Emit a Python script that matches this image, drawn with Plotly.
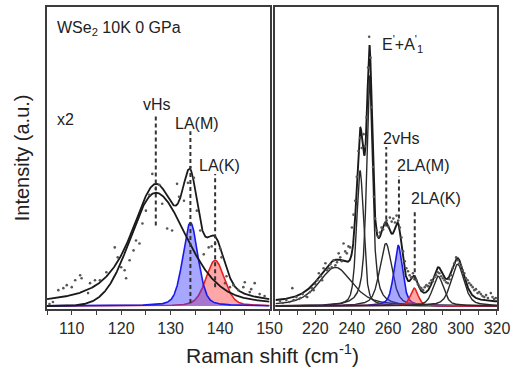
import numpy as np
import plotly.graph_objects as go

# ---------------- low-frequency window (105-150 cm-1, shown x2) ----------------
low_shift = [105.5, 106.2, 107.3, 108.3, 109.0, 110.0, 110.7, 111.7, 112.0, 113.3,
             113.7, 114.7, 115.7, 117.0, 118.7, 119.3, 120.0, 120.7, 121.0, 121.7,
             122.5, 123.0, 123.7, 124.3, 125.0, 125.7, 126.3, 127.0, 127.7, 128.3,
             129.3, 130.3, 131.3, 131.7, 132.7, 133.5, 134.0, 134.7, 135.3, 136.0,
             136.7, 137.7, 138.3, 139.0, 140.0, 140.3, 141.0, 141.3, 142.0, 142.7,
             143.7, 144.7, 145.0, 146.0, 146.3, 147.0, 148.0, 149.0]
low_counts = [2, 4, 16, 18, 21, 19, 26, 31, 28, 13,
              23, 26, 26, 34, 59, 49, 39, 36, 28, 46,
              56, 66, 63, 83, 96, 112, 133, 118, 122, 103,
              78, 76, 123, 110, 106, 124, 140, 129, 96, 76,
              52, 59, 60, 63, 58, 49, 23, 30, 19, 21,
              16, 19, 24, 14, 17, 23, 12, 10]

# fitted one-phonon peaks: LA(M) (blue) and LA(K) (red)
low_peak_center = [134.0, 139.0]
low_peak_height = [84.0, 46.0]
low_peak_fwhm = [3.6, 4.4]
low_peak_eta = [0.3, 0.3]

# broad term of the cumulative fit
low_broad_center = 127.0
low_broad_height = 121.0
low_broad_fwhm = 12.0
low_broad_eta = 0.8

# van Hove singularity band (asymmetric profile)
vhs_center = 127.0
vhs_height = 114.0
vhs_hw_left, vhs_hw_right = 6.0, 7.5
vhs_eta_left, vhs_eta_right = 0.0, 0.4

# ---------------- two-phonon window (198-320 cm-1) ----------------
high_shift = [200.5, 202, 204, 205.5, 207.3, 208, 209.5, 211, 211.8, 213, 214.5, 215.5,
              217, 218, 219, 220, 221, 221.9, 223, 223.7, 224.5, 225.5, 226.4, 227.3,
              228.2, 229, 230, 231, 231.9, 232.8, 233.7, 234.5, 235.5, 236.4, 237.3,
              238.2, 239.1, 240.1, 241, 241.9, 242.8, 243.7, 244.6, 245.5, 246.5, 247.3,
              248.2, 249, 249.6, 250.3, 251, 251.7, 252.2, 252.8, 253.7, 254.6, 255.5,
              256.4, 257.3, 258.3, 259.2, 260.1, 261, 262, 262.9, 263.8, 264.7, 265.6,
              266.5, 267.4, 268.3, 269.2, 270.1, 271, 271.9, 272.8, 273.7, 274.6, 275.6,
              276.5, 277.4, 278.3, 279.3, 280.2, 281.1, 282, 282.9, 283.8, 284.7, 285.6,
              286.5, 287.4, 288.3, 289.3, 290.2, 291.1, 292, 292.9, 293.8, 294.7, 295.6,
              296.5, 297.5, 298.4, 299.3, 300.2, 301.1, 302, 302.9, 303.8, 304.7, 305.7,
              306.6, 307.5, 308.4, 309.3, 310.2, 311.1, 312, 313, 314, 315, 316.6, 317.5,
              318.4, 319.3]
high_counts = [5, 3, 6, 4, 18, 6, 9, 7, 8, 12, 10, 9,
               14, 18, 16, 22, 26, 33, 30, 26, 38, 43, 36, 38,
               42, 39, 46, 41, 44, 53, 49, 45, 63, 55, 53,
               60, 59, 79, 92, 106, 130, 156, 169, 159, 173, 161,
               190, 240, 271, 250, 200, 140, 110, 88, 76, 70, 74,
               79, 77, 83, 86, 80, 89, 85, 88, 84, 91, 86,
               79, 69, 55, 45, 38, 35, 31, 29, 33, 27, 26,
               22, 19, 18, 16, 19, 21, 20, 23, 26, 25, 29,
               31, 34, 33, 30, 28, 26, 24, 23, 27, 31, 38,
               43, 49, 46, 43, 40, 36, 33, 28, 26, 23, 21,
               19, 16, 17, 13, 14, 12, 10, 9, 11, 8, 13, 9,
               7, 8]

# fitted components: broad band, 245, E'+A'1, 2vHs, 2LA(M), 2LA(K), 288, 298
high_peak_center = [231.0, 244.6, 249.8, 258.8, 265.6, 274.4, 287.6, 298.3]
high_peak_height = [39.0, 136.0, 232.0, 63.0, 61.0, 18.0, 30.0, 42.0]
high_peak_fwhm = [22.0, 4.6, 3.8, 8.0, 5.6, 5.0, 7.0, 8.5]
high_peak_eta = [0.6, 0.45, 0.8, 0.5, 0.5, 0.5, 0.5, 0.5]
high_background = 3.0
BLUE_IDX, RED_IDX = 4, 5

# guide marks (position, top, bottom)
low_mark_x = [127.0, 134.0, 139.0]
low_mark_top = [193, 176, 133]
low_mark_bottom = [81, 3, 19]
high_mark_x = [259.0, 266.0, 274.7]
high_mark_top = [160, 131, 97]
high_mark_bottom = [80, 88, 27]


def pseudo_voigt(x, center, height, fwhm, eta):
    u = ((x - center) / (fwhm / 2.0)) ** 2
    return height * (eta / (1.0 + u) + (1.0 - eta) * np.exp(-np.log(2.0) * u))


def split_voigt(x, center, height, hw_l, hw_r, eta_l, eta_r):
    left = pseudo_voigt(x, center, height, 2 * hw_l, eta_l)
    right = pseudo_voigt(x, center, height, 2 * hw_r, eta_r)
    return np.where(x < center, left, right)


xl = np.linspace(105, 150, 901)
xr = np.linspace(198, 320, 1221)

la_m = pseudo_voigt(xl, low_peak_center[0], low_peak_height[0], low_peak_fwhm[0], low_peak_eta[0])
la_k = pseudo_voigt(xl, low_peak_center[1], low_peak_height[1], low_peak_fwhm[1], low_peak_eta[1])
low_total = pseudo_voigt(xl, low_broad_center, low_broad_height, low_broad_fwhm, low_broad_eta) + la_m + la_k
vhs = split_voigt(xl, vhs_center, vhs_height, vhs_hw_left, vhs_hw_right, vhs_eta_left, vhs_eta_right)

high_parts = [pseudo_voigt(xr, c, h, w, e) for c, h, w, e in
              zip(high_peak_center, high_peak_height, high_peak_fwhm, high_peak_eta)]
high_total = np.sum(high_parts, axis=0) + high_background

BLUE_LINE, BLUE_FILL = "rgb(25,25,235)", "rgba(60,60,255,0.45)"
RED_LINE, RED_FILL = "rgb(235,30,30)", "rgba(255,60,60,0.45)"
INK = "#1a1a1a"
DOT = "#555555"
FONT = "Liberation Sans, Arial, sans-serif"

fig = go.Figure()

# left panel
fig.add_trace(go.Scatter(x=xl, y=la_k, mode="lines", fill="tozeroy", fillcolor=RED_FILL,
                         line=dict(color=RED_LINE, width=1.6), xaxis="x", yaxis="y"))
fig.add_trace(go.Scatter(x=xl, y=la_m, mode="lines", fill="tozeroy", fillcolor=BLUE_FILL,
                         line=dict(color=BLUE_LINE, width=1.6), xaxis="x", yaxis="y"))
fig.add_trace(go.Scatter(x=xl, y=vhs, mode="lines", line=dict(color=INK, width=1.8),
                         xaxis="x", yaxis="y"))
fig.add_trace(go.Scatter(x=xl, y=low_total, mode="lines", line=dict(color=INK, width=1.8),
                         xaxis="x", yaxis="y"))
fig.add_trace(go.Scatter(x=low_shift, y=low_counts, mode="markers",
                         marker=dict(color=DOT, size=2.6), xaxis="x", yaxis="y"))
for mx, top, bot in zip(low_mark_x, low_mark_top, low_mark_bottom):
    fig.add_trace(go.Scatter(x=[mx, mx], y=[bot, top], mode="lines",
                             line=dict(color="#333333", width=2, dash="4px,3px"),
                             xaxis="x", yaxis="y"))

# right panel
for i, part in enumerate(high_parts):
    if i == BLUE_IDX:
        fig.add_trace(go.Scatter(x=xr, y=part, mode="lines", fill="tozeroy", fillcolor=BLUE_FILL,
                                 line=dict(color=BLUE_LINE, width=1.6), xaxis="x2", yaxis="y2"))
    elif i == RED_IDX:
        fig.add_trace(go.Scatter(x=xr, y=part, mode="lines", fill="tozeroy", fillcolor=RED_FILL,
                                 line=dict(color=RED_LINE, width=1.6), xaxis="x2", yaxis="y2"))
    else:
        fig.add_trace(go.Scatter(x=xr, y=part, mode="lines", line=dict(color="#2a2a2a", width=1.4),
                                 xaxis="x2", yaxis="y2"))
fig.add_trace(go.Scatter(x=xr, y=high_total, mode="lines", line=dict(color=INK, width=1.9),
                         xaxis="x2", yaxis="y2"))
fig.add_trace(go.Scatter(x=high_shift, y=high_counts, mode="markers",
                         marker=dict(color=DOT, size=2.6), xaxis="x2", yaxis="y2"))
for mx, top, bot in zip(high_mark_x, high_mark_top, high_mark_bottom):
    fig.add_trace(go.Scatter(x=[mx, mx], y=[bot, top], mode="lines",
                             line=dict(color="#333333", width=2, dash="4px,3px"),
                             xaxis="x2", yaxis="y2"))

frame = dict(showline=True, linecolor="#3c3c3c", linewidth=1.6, mirror=True,
             showgrid=False, zeroline=False)
tickfont = dict(family=FONT, size=16, color="#2a2a2a")
yrange = [-3, 301]

fig.update_layout(
    width=515, height=369,
    margin=dict(l=47, r=13, t=5, b=60),
    paper_bgcolor="white", plot_bgcolor="white",
    showlegend=False,
    font=dict(family=FONT, color="#2a2a2a"),
    xaxis=dict(domain=[0, 0.4945], range=[105, 150], tickvals=[110, 120, 130, 140, 150],
               ticks="outside", ticklen=4, tickwidth=1.3, tickcolor="#3c3c3c",
               minor=dict(tickvals=[105, 115, 125, 135, 145], ticks="outside", ticklen=4,
                          tickwidth=1.3, tickcolor="#3c3c3c"),
               tickfont=tickfont, anchor="y", **frame),
    xaxis2=dict(domain=[0.5077, 1], range=[198, 320], tickvals=[220, 240, 260, 280, 300, 320],
                ticks="outside", ticklen=4, tickwidth=1.3, tickcolor="#3c3c3c",
                minor=dict(tickvals=[200, 210, 230, 250, 270, 290, 310], ticks="outside",
                           ticklen=4, tickwidth=1.3, tickcolor="#3c3c3c"),
                tickfont=tickfont, anchor="y2", **frame),
    yaxis=dict(range=yrange, showticklabels=False, ticks="", anchor="x", **frame),
    yaxis2=dict(range=yrange, showticklabels=False, ticks="", anchor="x2", **frame),
)

label_font = dict(family=FONT, size=16, color="#222222")
notes = [
    ("x", "y", 106.7, 279, "WSe<sub>2</sub> 10K 0 GPa", "left"),
    ("x", "y", 106.7, 188, "x2", "left"),
    ("x", "y", 127.3, 203, "vHs", "center"),
    ("x", "y", 135.3, 184, "LA(M)", "center"),
    ("x", "y", 139.9, 141, "LA(K)", "center"),
    ("x2", "y2", 255.3, 264, "E<sup>'</sup>+A<sup>'</sup><sub>1</sub>", "left"),
    ("x2", "y2", 255.9, 169, "2vHs", "left"),
    ("x2", "y2", 264.1, 141, "2LA(M)", "left"),
    ("x2", "y2", 271.7, 108, "2LA(K)", "left"),
]
for xref, yref, x, y, text, anchor in notes:
    fig.add_annotation(xref=xref, yref=yref, x=x, y=y, text=text, showarrow=False,
                       xanchor=anchor, yanchor="middle", font=label_font)

fig.add_annotation(xref="paper", yref="paper", x=-0.055, y=0.5, text="Intensity (a.u.)",
                   textangle=-90, showarrow=False, xanchor="center", yanchor="middle",
                   font=dict(family=FONT, size=20, color="#222222"))
fig.add_annotation(xref="paper", yref="paper", x=0.501, y=-0.148, text="Raman shift (cm<sup>-1</sup>)",
                   showarrow=False, xanchor="center", yanchor="middle",
                   font=dict(family=FONT, size=21, color="#222222"))

fig.write_html("out.html")
